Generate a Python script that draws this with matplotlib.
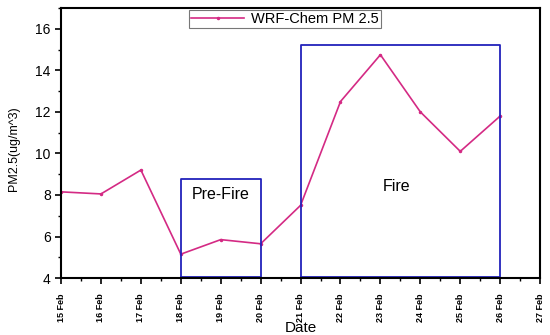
import matplotlib.pyplot as plt
from matplotlib.ticker import MultipleLocator

dates = ["15 Feb", "16 Feb", "17 Feb", "18 Feb", "19 Feb", "20 Feb", "21 Feb",
         "22 Feb", "23 Feb", "24 Feb", "25 Feb", "26 Feb", "27 Feb"]
pm25 = [8.15, 8.05, 9.2, 5.15, 5.85, 5.65, 7.5, 12.5, 14.75, 12.0, 10.1, 11.8]

prefire_span = (3, 5)      # 18 Feb .. 20 Feb
prefire_top = 8.78
fire_span = (6, 11)        # 21 Feb .. 26 Feb
fire_top = 15.23
box_bottom = 4.07

plt.rcParams["font.family"] = ["Liberation Sans", "DejaVu Sans"]

fig = plt.figure(figsize=(5.5, 3.35), dpi=100, facecolor="white")
ax = fig.add_axes([0.111, 0.170, 0.871, 0.806])

x = list(range(len(pm25)))
ax.plot(x, pm25, color="#d42a84", lw=1.2, marker="o", ms=1.5, label="WRF-Chem PM 2.5")

for (a, b), top in [(prefire_span, prefire_top), (fire_span, fire_top)]:
    ax.plot([a, a, b, b, a], [box_bottom, top, top, box_bottom, box_bottom],
            color="#2222bb", lw=1.3)

ax.text(4, 8.0, "Pre-Fire", ha="center", va="center", fontsize=11.5)
ax.text(8.4, 8.4, "Fire", ha="center", va="center", fontsize=11.5)

ax.set_xlim(0, 12)
ax.set_ylim(4, 17)
ax.set_xticks(range(len(dates)))
ax.set_xticklabels(dates, rotation=90, fontsize=6.5, fontweight="bold")
ax.xaxis.set_minor_locator(MultipleLocator(0.5))
ax.yaxis.set_major_locator(MultipleLocator(2))
ax.yaxis.set_minor_locator(MultipleLocator(1))
ax.tick_params(axis="both", which="major", direction="out", length=4, width=1.2)
ax.tick_params(axis="both", which="minor", direction="out", length=2.5, width=1.0)
ax.tick_params(axis="x", which="major", pad=7)
ax.tick_params(axis="y", labelsize=10)
for s in ax.spines.values():
    s.set_linewidth(1.5)

ax.set_xlabel("Date", fontsize=11, labelpad=-1)
ax.set_ylabel("PM2.5(ug/m^3)", fontsize=9, labelpad=8)
ax.yaxis.set_label_coords(-0.085, 0.48)

leg = ax.legend(loc="upper center", bbox_to_anchor=(0.468, 1.005), fontsize=10.5,
                frameon=True, fancybox=False, borderpad=0.15, handlelength=3.6,
                handletextpad=0.5, borderaxespad=0.2)
leg.get_frame().set_edgecolor("#555555")
leg.get_frame().set_linewidth(0.8)

fig.savefig("out.png", dpi=100)
